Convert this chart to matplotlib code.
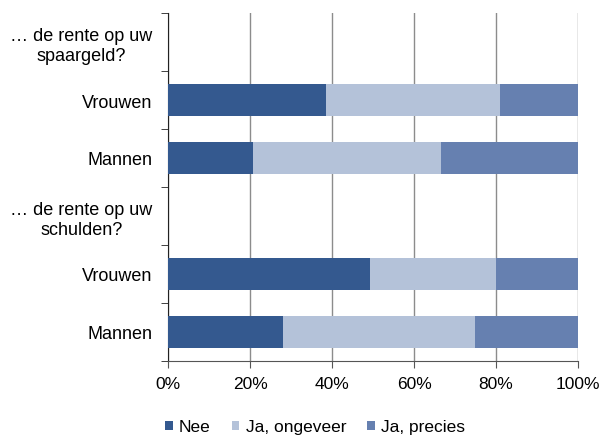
import numpy as np
import matplotlib.pyplot as plt
from matplotlib.patches import Patch

plt.rcParams['font.family'] = ['Liberation Sans', 'DejaVu Sans']

# Rows from top to bottom; header rows have no bars
labels = ['… de rente op uw\nspaargeld?', 'Vrouwen', 'Mannen',
          '… de rente op uw\nschulden?', 'Vrouwen', 'Mannen']
nee = [0, 38.5, 20.7, 0, 49.2, 28.1]
ongeveer = [0, 42.5, 45.9, 0, 30.8, 46.7]
precies = [0, 19.0, 33.4, 0, 20.0, 25.2]

series = ['Nee', 'Ja, ongeveer', 'Ja, precies']
colors = ['#34598f', '#b4c2d9', '#6680b0']

fig = plt.figure(figsize=(6.02, 4.39), dpi=100)
ax = fig.add_axes([168 / 602, 1 - 362 / 439, 410 / 602, 348 / 439])

y = np.arange(len(labels))
left = np.zeros(len(labels))
for vals, col in zip([nee, ongeveer, precies], colors):
    vals = np.array(vals)
    ax.barh(y, vals, left=left, height=0.55, color=col, zorder=3)
    left += vals

ax.set_ylim(len(labels) - 0.5, -0.5)
ax.set_xlim(0, 100)

# category labels between boundary ticks, Excel style
ax.set_yticks(y)
ax.set_yticklabels(labels, fontsize=13, multialignment='center')
ax.set_yticks(np.arange(-0.5, len(labels)), minor=True)
ax.tick_params(axis='y', which='major', length=0, pad=11)
ax.tick_params(axis='y', which='minor', length=5, direction='out', color='#222222')

ax.set_xticks(np.arange(0, 101, 20))
ax.set_xticklabels([f'{v}%' for v in range(0, 101, 20)], fontsize=12.5)
ax.tick_params(axis='x', length=5, direction='out', color='#555555', pad=6)

ax.grid(axis='x', color='#8c8c8c', linewidth=1, zorder=0)
for s in ['top', 'right']:
    ax.spines[s].set_visible(False)
ax.spines['left'].set_color('#222222')
ax.spines['bottom'].set_color('#555555')

handles = [Patch(facecolor=c, edgecolor='none', label=s) for s, c in zip(series, colors)]
fig.legend(handles=handles, loc='center', bbox_to_anchor=(315 / 602, 1 - 428 / 439),
           ncol=3, frameon=False, fontsize=12.5, handlelength=0.45, handleheight=0.45,
           handletextpad=0.35, columnspacing=1.2, borderaxespad=0)

fig.savefig('out.png', dpi=100)
